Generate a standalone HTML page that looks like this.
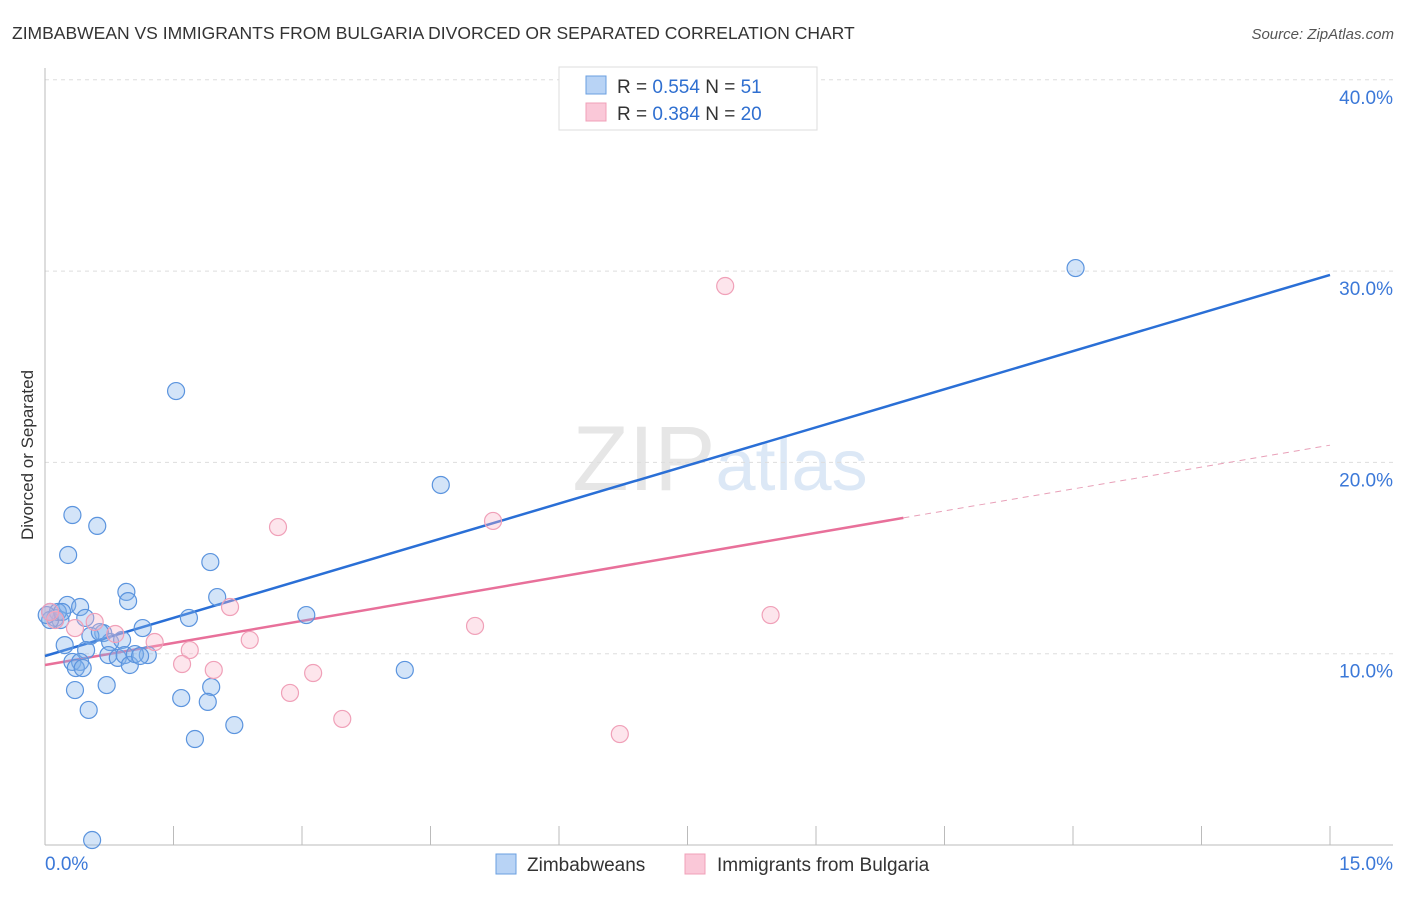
<!DOCTYPE html>
<html><head><meta charset="utf-8"><style>
body{margin:0;background:#fff;font-family:"Liberation Sans",sans-serif}
svg text{font-family:"Liberation Sans",sans-serif}
</style></head><body>
<svg id="chart" width="1406" height="892" viewBox="0 0 1406 892" xmlns="http://www.w3.org/2000/svg">
<text x="12" y="39" font-size="17.5" fill="#333">ZIMBABWEAN VS IMMIGRANTS FROM BULGARIA DIVORCED OR SEPARATED CORRELATION CHART</text>
<text x="1394" y="39" font-size="15" fill="#555" text-anchor="end" font-style="italic">Source: ZipAtlas.com</text>
<text x="720" y="490" font-size="92" text-anchor="middle" fill="#e6e6e6" font-family="Liberation Serif"><tspan>ZIP</tspan><tspan fill="#dce8f6" font-family="Liberation Sans" font-size="72">atlas</tspan></text>
<g id="grid"></g>
<g id="axes"></g>
<g id="trend"></g>
<g id="points"></g>
<text transform="translate(33,455) rotate(-90)" font-size="17" fill="#333" text-anchor="middle">Divorced or Separated</text>
<g>
<rect x="559" y="67" width="258" height="63" fill="#fff" stroke="#ddd"/>
<rect x="586" y="76" width="20" height="18" fill="#b8d3f5" stroke="#6a9fe0"/>
<rect x="586" y="103" width="20" height="18" fill="#fac8d8" stroke="#f0a0b8"/>
<text x="617" y="93" font-size="19" fill="#333">R = <tspan fill="#2f6fd0">0.554</tspan>   N = <tspan fill="#2f6fd0">51</tspan></text>
<text x="617" y="120" font-size="19" fill="#333">R = <tspan fill="#2f6fd0">0.384</tspan>   N = <tspan fill="#2f6fd0">20</tspan></text>
</g>
<g>
<rect x="496" y="854" width="20" height="20" fill="#b8d3f5" stroke="#6a9fe0"/>
<text x="527" y="871" font-size="19" fill="#333">Zimbabweans</text>
<rect x="685" y="854" width="20" height="20" fill="#fac8d8" stroke="#f0a0b8"/>
<text x="717" y="871" font-size="19" fill="#333">Immigrants from Bulgaria</text>
</g>
</svg>
<script>
const yTicks=[10,20,30,40];
const yTickLabels=["10.0%","20.0%","30.0%","40.0%"];
const xTicks=[0,1.5,3,4.5,6,7.5,9,10.5,12,13.5,15];
const xLabels=["0.0%","15.0%"];
const blueX=[0.32,0.61,0.27,1.53,4.62,12.03,1.93,0.95,0.97,2.01,1.68,3.05,1.14,0.26,0.41,0.06,0.12,0.18,0.06,0.47,0.15,0.68,0.53,0.23,0.76,0.90,0.48,0.74,0.85,0.93,0.99,1.20,1.05,0.32,0.41,0.36,0.44,4.20,0.35,0.72,1.94,1.59,1.90,0.51,2.21,1.75,0.55,0.02,0.20,0.64,1.11];
const blueY=[17.25,16.68,15.16,23.73,18.82,30.16,14.79,13.23,12.75,12.96,11.87,12.02,11.34,12.55,12.44,12.18,11.87,11.76,11.76,11.87,12.18,11.08,10.93,10.45,10.61,10.72,10.19,9.93,9.78,9.93,9.41,9.93,9.98,9.57,9.57,9.25,9.25,9.15,8.10,8.36,8.26,7.68,7.48,7.06,6.27,5.54,0.26,12.02,12.18,11.13,9.88];
const pinkX=[7.94,5.23,2.72,8.47,5.02,2.16,2.39,1.28,0.58,0.35,0.12,0.06,1.69,0.82,1.60,1.97,3.13,2.86,3.47,6.71];
const pinkY=[29.22,16.94,16.62,12.02,11.45,12.44,10.72,10.61,11.66,11.34,11.76,12.18,10.19,11.03,9.46,9.15,8.99,7.95,6.59,5.80];
const blueTrend=[[0,9.88],[15,29.8]];
const pinkTrend=[[0,9.41],[10.02,17.1]];
const pinkTrendExt=[[10.02,17.1],[15,20.9]];
const NS="http://www.w3.org/2000/svg";
const sx=v=>45+v*(1285/15);
const sy=v=>845-v*19.13;
function mk(tag,attrs,parent){const e=document.createElementNS(NS,tag);for(const k in attrs)e.setAttribute(k,attrs[k]);document.getElementById(parent).appendChild(e);return e;}
yTicks.forEach((t,i)=>{
 const l=mk('line',{x1:45,x2:1393,y1:sy(t),y2:sy(t),stroke:'#ddd','stroke-dasharray':'4,4'},'grid');
 
 
 const tx=mk('text',{x:1393,y:sy(t)+24,'font-size':19,fill:'#3b78d8','text-anchor':'end'},'grid');
 tx.textContent=yTickLabels[i];
 
 
});
const ax=mk('line',{x1:45,x2:45,y1:68,y2:845,stroke:'#bbb'},'axes');


const bx=mk('line',{x1:45,x2:1393,y1:845,y2:845,stroke:'#bbb'},'axes');


xTicks.forEach(t=>{
 const l=mk('line',{x1:sx(t),x2:sx(t),y1:826,y2:845,stroke:'#bbb'},'axes');
 
 
});
const xl0=mk('text',{x:45,y:870,'font-size':19,fill:'#3b78d8'},'axes');xl0.textContent=xLabels[0];


const xl1=mk('text',{x:1393,y:870,'font-size':19,fill:'#3b78d8','text-anchor':'end'},'axes');xl1.textContent=xLabels[1];


function line(pts,color,w,dash,name){
 const a={x1:sx(pts[0][0]),y1:sy(pts[0][1]),x2:sx(pts[1][0]),y2:sy(pts[1][1]),stroke:color,'stroke-width':w};
 if(dash)a['stroke-dasharray']=dash;
 const l=mk('line',a,'trend');
 
 
}
line(blueTrend,'#2a6fd6',2.5,null,'zimbabwean-trend-line');
line(pinkTrend,'#e8709a',2.5,null,'bulgaria-trend-line');
line(pinkTrendExt,'#e8a0b8',1,'6,5','bulgaria-trend-extension');
blueX.forEach((x,i)=>{
 const c=mk('circle',{cx:sx(x),cy:sy(blueY[i]),r:8.5,fill:'rgba(130,178,235,0.35)',stroke:'#5b94de','stroke-width':1.2},'points');
 
 
});
pinkX.forEach((x,i)=>{
 const c=mk('circle',{cx:sx(x),cy:sy(pinkY[i]),r:8.5,fill:'rgba(248,180,200,0.35)',stroke:'#f0a0b8','stroke-width':1.2},'points');
 
 
});
</script>
</body></html>
